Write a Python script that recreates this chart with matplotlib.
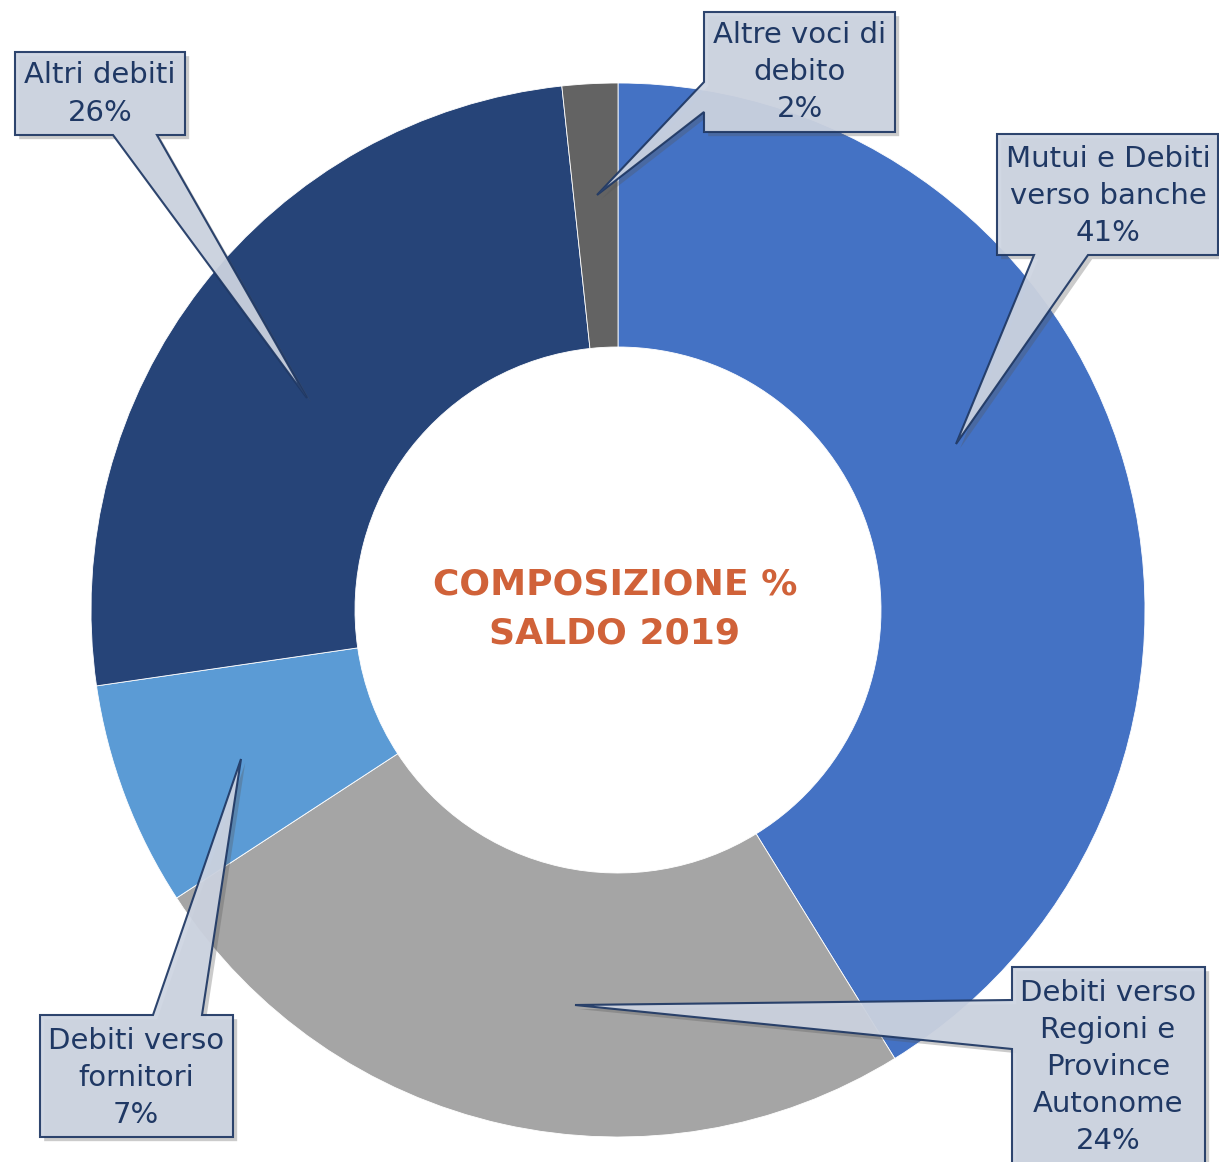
import numpy as np
import matplotlib
matplotlib.use("Agg")
import matplotlib.pyplot as plt
from matplotlib.patches import Polygon
import matplotlib.patheffects as pe

W, H = 1219, 1162

categories = ["Mutui e Debiti\nverso banche",
              "Debiti verso\nRegioni e\nProvince\nAutonome",
              "Debiti verso\nfornitori",
              "Altri debiti",
              "Altre voci di\ndebito"]
values = [41.2, 24.6, 6.9, 25.6, 1.7]
pct_labels = [41, 24, 7, 26, 2]
colors = ["#4472C4", "#A5A5A5", "#5B9BD5", "#264478", "#636363"]

# callout shapes in pixel coords (box + pointer), and text centres
callouts = [
    [(997, 134), (1218, 134), (1218, 255), (1088, 255), (956, 444), (1034, 255), (997, 255)],
    [(1012, 967), (1205, 967), (1205, 1180), (1012, 1180), (1012, 1049), (575, 1005), (1012, 1000)],
    [(40, 1015), (153, 1015), (241, 759), (202, 1015), (233, 1015), (233, 1137), (40, 1137)],
    [(15, 52), (185, 52), (185, 135), (157, 135), (307, 398), (113, 135), (15, 135)],
    [(704, 12), (895, 12), (895, 132), (704, 132), (704, 112), (597, 195), (704, 82)],
]
text_pos = [(1108, 196), (1108, 1067), (136, 1078), (100, 94), (800, 72)]


def yy(y):
    return H - y


fig = plt.figure(figsize=(W / 100, H / 100), dpi=100)
ax = fig.add_axes([0, 0, 1, 1])

ax.pie(values, colors=colors, startangle=90, counterclock=False,
       radius=527, center=(618, yy(610)),
       wedgeprops=dict(width=264, edgecolor="white", linewidth=0.6))

ax.set_xlim(0, W)
ax.set_ylim(0, H)
ax.set_aspect("equal")
ax.axis("off")

ax.text(615, yy(609), "COMPOSIZIONE %\nSALDO 2019", ha="center", va="center",
        fontsize=26, fontweight="bold", color="#D06239", linespacing=1.58)

shadow = [pe.SimplePatchShadow(offset=(3, -3), shadow_rgbFace="#555555", alpha=0.3),
          pe.Normal()]

for cat, pct, pts, (tx, ty) in zip(categories, pct_labels, callouts, text_pos):
    poly = Polygon([(x, yy(y)) for x, y in pts], closed=True,
                   facecolor="#CDD4E1", edgecolor="#1F3864", linewidth=1.5,
                   alpha=0.93, joinstyle="miter", zorder=5)
    poly.set_path_effects(shadow)
    ax.add_patch(poly)
    ax.text(tx, yy(ty), f"{cat}\n{pct}%", ha="center", va="center",
            fontsize=21, color="#1F3864", linespacing=1.41, zorder=6)

fig.savefig("out.png", dpi=100)
